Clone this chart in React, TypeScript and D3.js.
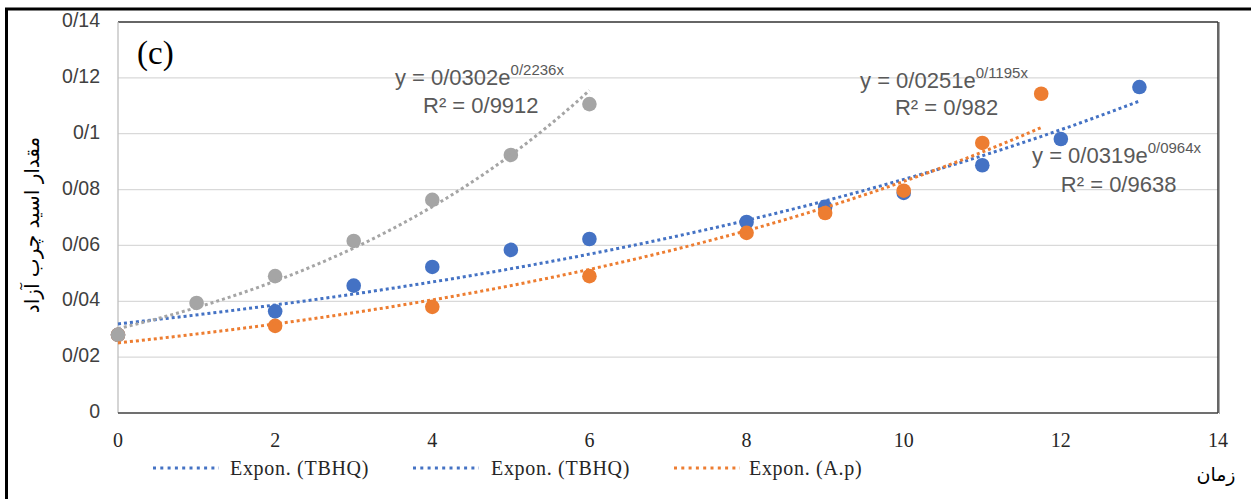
import React from "react";
import * as d3 from "d3";

// ---- data ----
const blueX = [0, 2, 3, 4, 5, 6, 8, 9, 10, 11, 12, 13];
const blueY = [0.028, 0.0364, 0.0456, 0.0523, 0.0584, 0.0623, 0.0684, 0.0738, 0.0788, 0.0887, 0.0981, 0.1167];
const orangeX = [0, 2, 4, 6, 8, 9, 10, 11, 11.75];
const orangeY = [0.028, 0.0312, 0.038, 0.049, 0.0645, 0.0716, 0.0796, 0.0967, 0.1143];
const grayX = [0, 1, 2, 3, 4, 5, 6];
const grayY = [0.028, 0.0394, 0.049, 0.0616, 0.0763, 0.0924, 0.1106];

// exponential trendline coefficients (y = a e^(b x)) as printed on the chart
const trendA = [0.0319, 0.0251, 0.0302];
const trendB = [0.0964, 0.1195, 0.2236];
const trendEnd = [13, 11.75, 6];
const eqMain = ["y = 0/0319e", "y = 0/0251e", "y = 0/0302e"];
const eqSup = ["0/0964x", "0/1195x", "0/2236x"];
const eqR2 = ["R² = 0/9638", "R² = 0/982", "R² = 0/9912"];
// label anchor positions in data units [x, y] for equation line and R² line
const eqPos = [
  [11.633, 0.0895, 12.0, 0.0791],
  [9.444, 0.1164, 9.889, 0.1067],
  [3.525, 0.1174, 3.882, 0.1074],
];

const xTicks = [0, 2, 4, 6, 8, 10, 12, 14];
const yTicks = [0, 0.02, 0.04, 0.06, 0.08, 0.1, 0.12, 0.14];
const yTickLabels = ["0", "0/02", "0/04", "0/06", "0/08", "0/1", "0/12", "0/14"];
const legendLabels = ["Expon. (TBHQ)", "Expon. (TBHQ)", "Expon. (A.p)"];
const colors = ["#4472C4", "#ED7D31", "#A5A5A5"];
const legendColors = ["#4472C4", "#4472C4", "#ED7D31"];

const W = 1251;
const H = 499;
const L = 118, R = 1218, T = 22, B = 413;

export default function App() {
  const x = d3.scaleLinear().domain([0, 14]).range([L, R]);
  const y = d3.scaleLinear().domain([0, 0.14]).range([B, T]);

  const series = [
    { xs: blueX, ys: blueY },
    { xs: orangeX, ys: orangeY },
    { xs: grayX, ys: grayY },
  ];

  const line = d3
    .line<[number, number]>()
    .x((d) => x(d[0]))
    .y((d) => y(d[1]))
    .curve(d3.curveLinear);

  const trendPath = (i: number) => {
    const pts: [number, number][] = [];
    const n = 120;
    for (let k = 0; k <= n; k++) {
      const xv = (trendEnd[i] * k) / n;
      pts.push([xv, trendA[i] * Math.exp(trendB[i] * xv)]);
    }
    return line(pts) || "";
  };

  const legendSw = [153, 413, 674];
  const legendTx = [230, 491, 749];

  return (
    <svg
      width={W}
      height={H}
      style={{ position: "absolute", left: 0, top: 0, background: "#fff" }}
    >
      <rect x={0} y={0} width={W} height={H} fill="#fff" />
      {/* outer frame */}
      <line x1={6.5} y1={9} x2={6.5} y2={H} stroke="#000" strokeWidth={3} />
      <line x1={5} y1={9} x2={W} y2={9} stroke="#000" strokeWidth={3} />

      {/* gridlines */}
      {yTicks.slice(1, -1).map((t, i) => (
        <line key={i} x1={L} x2={R} y1={y(t)} y2={y(t)} stroke="#d9d9d9" strokeWidth={1.3} />
      ))}

      {/* plot border */}
      <line x1={L} x2={R} y1={T} y2={T} stroke="#333" strokeWidth={1.5} />
      <line x1={R} x2={R} y1={T} y2={B} stroke="#333" strokeWidth={1.5} />
      <line x1={R + 1.5} x2={R + 1.5} y1={T} y2={B + 1} stroke="#aaa" strokeWidth={1} />
      <line x1={L} x2={L} y1={T} y2={B} stroke="#bfbfbf" strokeWidth={1.3} />
      <line x1={L} x2={R} y1={B} y2={B} stroke="#404040" strokeWidth={1.5} />

      {/* y tick labels */}
      {yTicks.map((t, i) => (
        <text
          key={i}
          x={100}
          y={y(t)}
          textAnchor="end"
          dominantBaseline="middle"
          fontFamily="'Liberation Sans', Arial, sans-serif"
          fontSize={19.5}
          fill="#404040"
        >
          {yTickLabels[i]}
        </text>
      ))}

      {/* x tick labels */}
      {xTicks.map((t, i) => (
        <text
          key={i}
          x={x(t)}
          y={447}
          textAnchor="middle"
          fontFamily="'Liberation Serif', 'Times New Roman', serif"
          fontSize={20}
          fill="#262626"
        >
          {t}
        </text>
      ))}

      {/* markers */}
      {series.map((s, si) =>
        s.xs.map((xv, k) => (
          <circle key={si + "-" + k} cx={x(xv)} cy={y(s.ys[k])} r={7.3} fill={colors[si]} />
        ))
      )}

      {/* trendlines */}
      {[0, 1, 2].map((i) => (
        <path
          key={i}
          d={trendPath(i)}
          fill="none"
          stroke={colors[i]}
          strokeWidth={3}
          strokeDasharray="3 3"
        />
      ))}

      {/* equations */}
      {[0, 1, 2].map((i) => (
        <g key={i} fontFamily="'Liberation Sans', Arial, sans-serif" fill="#595959">
          <text x={x(eqPos[i][0])} y={y(eqPos[i][1])} fontSize={22}>
            {eqMain[i]}
            <tspan fontSize={15} dy={-10}>
              {eqSup[i]}
            </tspan>
          </text>
          <text x={x(eqPos[i][2])} y={y(eqPos[i][3])} fontSize={22}>
            {eqR2[i]}
          </text>
        </g>
      ))}

      {/* panel label */}
      <text
        x={137}
        y={64}
        fontFamily="'Liberation Serif', 'Times New Roman', serif"
        fontSize={33}
        fill="#000"
      >
        (c)
      </text>

      {/* legend */}
      {legendLabels.map((lab, i) => (
        <g key={i}>
          <line
            x1={legendSw[i]}
            x2={legendSw[i] + 66}
            y1={468}
            y2={468}
            stroke={legendColors[i]}
            strokeWidth={3}
            strokeDasharray="3 4.3"
          />
          <text
            x={legendTx[i]}
            y={475}
            fontFamily="'Liberation Serif', 'Times New Roman', serif"
            fontSize={20}
            letterSpacing={0.7}
            fill="#262626"
          >
            {lab}
          </text>
        </g>
      ))}

      {/* axis titles */}
      <text
        x={1216}
        y={481}
        textAnchor="middle"
        fontFamily="'DejaVu Serif', 'DejaVu Sans', serif"
        fontSize={19}
        fill="#000"
        direction="rtl"
      >
        زمان
      </text>
      <text
        transform={`translate(39, 225) rotate(-90)`}
        textAnchor="middle"
        fontFamily="'DejaVu Sans', sans-serif"
        fontSize={20}
        fill="#000"
        direction="rtl"
      >
        مقدار اسید چرب آزاد
      </text>
    </svg>
  );
}
